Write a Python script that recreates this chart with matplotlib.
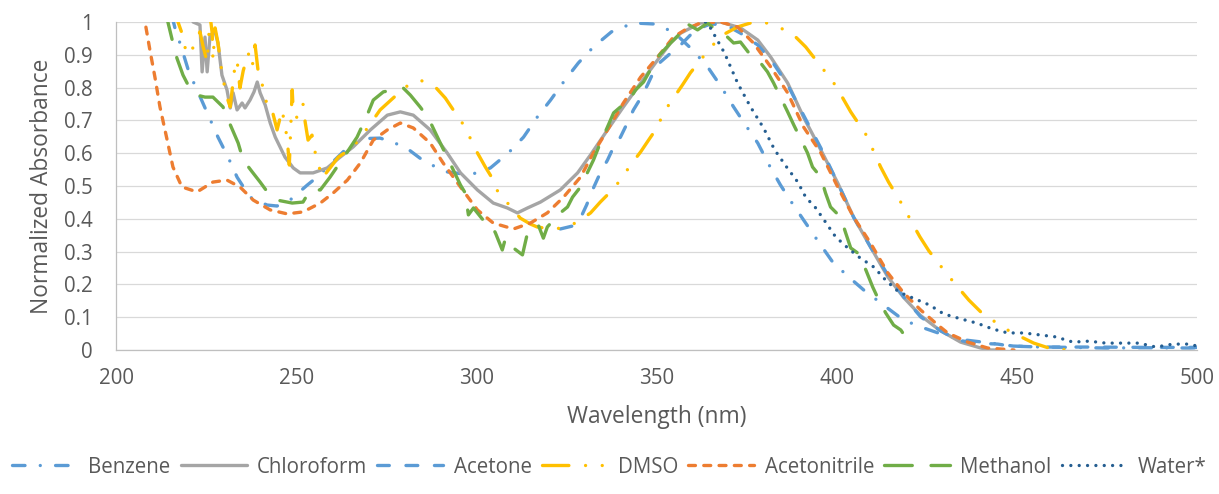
# UV-Vis absorbance spectra in different solvents, normalised
import matplotlib
matplotlib.use("Agg")
import matplotlib.pyplot as plt
from matplotlib.ticker import MultipleLocator, FuncFormatter

# ---- data ----
benzene_wl = [215.5, 216.4, 218.1, 220.3, 222.5, 225.6, 228.3, 231.1, 233.6, 237.2,
              241.9, 244.7, 248.6, 253.1, 255.8, 262.2, 265.8, 270.0, 273.3, 276.7,
              280.6, 285.8, 291.9, 298.3, 303.9, 308.9, 313.1, 316.9, 320.6, 324.2,
              328.3, 332.5, 337.5, 343.6, 349.2, 354.7, 360.0, 364.2, 367.8, 371.4,
              374.7, 378.1, 381.1, 384.4, 387.8, 391.4, 395.0, 398.9, 403.3, 407.5,
              413.0, 418.6, 424.2, 430.0, 436.0, 442.8, 449.0, 456.7, 465.0, 474.7,
              485.0, 498.0, 500.0]
benzene_abs = [1.02, 0.98, 0.924, 0.845, 0.793, 0.716, 0.649, 0.588, 0.527, 0.466,
               0.442, 0.439, 0.46, 0.503, 0.527, 0.595, 0.634, 0.645, 0.646, 0.634,
               0.616, 0.573, 0.543, 0.534, 0.555, 0.601, 0.649, 0.71, 0.762, 0.817,
               0.875, 0.924, 0.97, 0.997, 0.994, 0.97, 0.915, 0.863, 0.805, 0.741,
               0.686, 0.631, 0.567, 0.503, 0.445, 0.387, 0.329, 0.268, 0.223, 0.183,
               0.137, 0.091, 0.067, 0.045, 0.03, 0.021, 0.012, 0.009, 0.008, 0.006,
               0.007, 0.006, 0.007]

chcl3_wl = [221.0, 221.4, 223.3, 223.9, 224.7, 225.3, 226.1, 227.5, 228.3, 229.4,
            230.8, 231.7, 232.5, 233.6, 235.0, 235.8, 237.2, 238.3, 239.2, 240.0,
            241.4, 242.8, 244.2, 246.9, 249.2, 251.1, 254.7, 258.6, 262.2, 265.8,
            270.6, 275.3, 278.9, 282.5, 287.2, 291.9, 295.6, 300.3, 304.7, 308.6,
            311.4, 314.2, 317.8, 323.3, 328.1, 331.7, 336.4, 340.8, 345.6, 350.3,
            353.9, 356.7, 362.2, 367.8, 373.3, 378.1, 381.7, 386.4, 390.8, 395.6,
            400.3, 404.7, 409.4, 414.2, 418.6, 423.3, 428.5, 434.4, 440.0, 442.8,
            446.0]
chcl3_abs = [1.03, 1.0, 0.991, 0.848, 0.954, 0.848, 0.96, 0.97, 0.936, 0.838,
             0.793, 0.738, 0.784, 0.732, 0.753, 0.738, 0.762, 0.787, 0.817, 0.784,
             0.747, 0.692, 0.649, 0.588, 0.555, 0.54, 0.54, 0.555, 0.588, 0.619,
             0.671, 0.716, 0.726, 0.716, 0.671, 0.601, 0.54, 0.488, 0.448, 0.433,
             0.418, 0.433, 0.451, 0.488, 0.54, 0.595, 0.671, 0.741, 0.814, 0.884,
             0.936, 0.966, 0.997, 1.0, 0.982, 0.945, 0.893, 0.814, 0.71, 0.61,
             0.509, 0.405, 0.314, 0.223, 0.16, 0.105, 0.061, 0.024, 0.006, 0.0,
             0.0]

acetone_wl = [323.3, 326.7, 328.9, 330.6, 332.5, 334.4, 336.4, 338.1, 340.0, 341.9,
              343.6, 345.6, 347.5, 349.2, 351.1, 353.3, 356.7, 360.8, 365.0, 369.2,
              373.3, 378.1, 382.2, 386.4, 390.8, 395.6, 400.3, 404.7, 409.4, 414.2,
              418.6, 423.3, 428.9, 433.6, 438.6, 444.7, 448.3, 456.7, 470.0, 485.0,
              500.0]
acetone_abs = [0.369, 0.378, 0.402, 0.442, 0.494, 0.54, 0.579, 0.619, 0.649, 0.692,
               0.732, 0.768, 0.808, 0.848, 0.878, 0.899, 0.93, 0.976, 0.994, 0.991,
               0.966, 0.93, 0.878, 0.808, 0.716, 0.616, 0.509, 0.405, 0.314, 0.229,
               0.162, 0.101, 0.058, 0.03, 0.021, 0.018, 0.012, 0.009, 0.009, 0.008,
               0.008]

dmso_wl = [216.8, 217.2, 218.3, 219.2, 220.6, 221.9, 223.3, 224.2, 225.3, 226.1,
           226.7, 226.9, 227.5, 228.3, 229.4, 230.6, 231.7, 232.8, 233.6, 234.4,
           235.3, 236.7, 237.8, 238.6, 239.4, 240.6, 241.4, 241.9, 243.3, 244.7,
           246.1, 247.5, 248.1, 248.9, 249.2, 250.3, 251.9, 252.5, 253.3, 254.4,
           255.3, 256.1, 257.2, 259.4, 261.7, 265.8, 269.4, 273.3, 276.9, 280.3,
           284.4, 288.6, 291.4, 293.6, 296.1, 298.3, 300.3, 302.5, 304.4, 306.1,
           309.4, 312.2, 315.0, 316.9, 320.6, 324.2, 328.1, 331.7, 334.4, 337.2,
           340.0, 342.8, 345.6, 347.8, 350.3, 351.9, 354.7, 357.2, 359.4, 362.2,
           365.0, 367.8, 372.5, 376.1, 379.7, 383.9, 388.1, 391.4, 396.4, 399.2,
           401.7, 403.9, 408.6, 410.3, 412.2, 414.4, 418.6, 420.8, 423.1, 425.6,
           430.8, 433.6, 436.7, 440.0, 446.4, 450.6, 454.7, 458.9, 464.2]
dmso_abs = [1.05, 1.0, 0.966, 0.921, 0.899, 0.939, 0.97, 0.924, 0.878, 1.02,
            0.966, 0.884, 0.982, 0.936, 0.845, 0.777, 0.741, 0.848, 0.884, 0.799,
            0.851, 0.905, 0.863, 0.93, 0.854, 0.808, 0.784, 0.738, 0.732, 0.671,
            0.732, 0.646, 0.564, 0.793, 0.726, 0.707, 0.75, 0.695, 0.64, 0.655,
            0.601, 0.57, 0.524, 0.555, 0.588, 0.619, 0.671, 0.732, 0.768, 0.802,
            0.823, 0.802, 0.768, 0.732, 0.692, 0.646, 0.601, 0.558, 0.524, 0.479,
            0.439, 0.402, 0.384, 0.375, 0.369, 0.372, 0.39, 0.418, 0.451, 0.482,
            0.518, 0.564, 0.604, 0.64, 0.68, 0.723, 0.768, 0.808, 0.845, 0.884,
            0.921, 0.957, 0.985, 0.997, 1.0, 0.985, 0.96, 0.924, 0.854, 0.814,
            0.768, 0.726, 0.649, 0.604, 0.558, 0.512, 0.436, 0.39, 0.345, 0.302,
            0.229, 0.192, 0.152, 0.116, 0.067, 0.043, 0.021, 0.006, 0.0]

mecn_wl = [207.5, 208.1, 209.4, 210.8, 212.2, 214.2, 215.8, 218.3, 222.5, 226.9,
           230.8, 234.4, 238.1, 242.8, 247.5, 251.9, 256.7, 260.3, 264.2, 267.8,
           271.4, 275.3, 278.9, 282.5, 287.2, 290.8, 295.6, 300.3, 304.7, 310.3,
           315.0, 319.7, 324.2, 328.9, 332.5, 336.4, 340.8, 345.6, 350.3, 354.7,
           358.5, 362.2, 367.8, 372.5, 376.9, 381.7, 386.4, 390.8, 395.6, 400.3,
           404.7, 409.4, 414.2, 418.6, 423.3, 428.1, 430.8, 436.4, 441.9, 449.2]
mecn_abs = [1.03, 0.997, 0.915, 0.832, 0.741, 0.64, 0.558, 0.497, 0.482, 0.512,
            0.518, 0.497, 0.457, 0.427, 0.415, 0.421, 0.448, 0.479, 0.518, 0.57,
            0.64, 0.671, 0.692, 0.677, 0.631, 0.57, 0.497, 0.427, 0.387, 0.369,
            0.387, 0.418, 0.466, 0.527, 0.601, 0.671, 0.753, 0.832, 0.893, 0.954,
            0.98, 0.997, 1.0, 0.985, 0.936, 0.863, 0.784, 0.68, 0.601, 0.497,
            0.405, 0.326, 0.235, 0.174, 0.122, 0.076, 0.052, 0.024, 0.006, 0.0]

meoh_wl = [214.0, 214.4, 215.8, 216.9, 218.6, 220.0, 222.5, 224.7, 226.9, 229.7,
           230.8, 233.9, 235.3, 237.8, 240.0, 242.2, 244.7, 248.9, 251.9, 253.9,
           256.7, 259.4, 264.2, 266.9, 269.7, 271.4, 274.2, 276.9, 279.7, 281.7,
           284.4, 286.7, 290.0, 293.6, 295.6, 296.9, 297.8, 299.2, 301.9, 303.9,
           305.3, 307.2, 308.1, 310.3, 312.8, 314.2, 315.8, 317.2, 318.6, 319.7,
           321.4, 323.3, 325.3, 326.7, 328.9, 332.5, 334.4, 336.4, 338.1, 340.0,
           341.9, 344.2, 346.4, 350.3, 353.9, 356.7, 358.1, 361.4, 364.2, 365.8,
           369.7, 371.4, 373.3, 376.1, 378.9, 380.8, 382.5, 386.4, 388.1, 391.9,
           393.3, 395.6, 396.9, 398.3, 401.1, 402.5, 403.9, 405.8, 408.1, 410.0,
           411.7, 413.6, 415.8, 417.8, 420.6]
meoh_abs = [1.03, 1.0, 0.936, 0.89, 0.838, 0.808, 0.777, 0.771, 0.771, 0.741,
            0.71, 0.631, 0.579, 0.543, 0.512, 0.479, 0.457, 0.448, 0.451, 0.488,
            0.488, 0.527, 0.604, 0.649, 0.716, 0.762, 0.787, 0.793, 0.799, 0.777,
            0.741, 0.707, 0.631, 0.549, 0.503, 0.479, 0.412, 0.433, 0.396, 0.387,
            0.357, 0.305, 0.341, 0.311, 0.29, 0.357, 0.366, 0.381, 0.341, 0.375,
            0.396, 0.418, 0.436, 0.466, 0.497, 0.579, 0.631, 0.68, 0.723, 0.741,
            0.753, 0.793, 0.817, 0.893, 0.936, 0.966, 0.997, 0.976, 0.997, 0.982,
            0.954, 0.936, 0.939, 0.899, 0.875, 0.848, 0.814, 0.726, 0.686, 0.601,
            0.558, 0.527, 0.479, 0.436, 0.405, 0.357, 0.311, 0.296, 0.244, 0.192,
            0.152, 0.113, 0.076, 0.061, 0.015]

water_wl = [363.6, 364.2, 368.9, 372.5, 376.1, 379.7, 382.8, 386.1, 389.2, 391.4,
            394.2, 396.9, 399.7, 403.1, 406.1, 410.3, 413.6, 417.2, 421.9, 425.8,
            429.7, 434.4, 438.9, 443.3, 447.5, 451.9, 456.4, 460.8, 465.6, 470.0,
            474.7, 479.4, 483.9, 488.6, 493.3, 497.8, 500.0]
water_abs = [1.0, 0.997, 0.905, 0.814, 0.741, 0.677, 0.61, 0.558, 0.512, 0.466,
             0.433, 0.39, 0.345, 0.311, 0.284, 0.253, 0.213, 0.177, 0.155, 0.137,
             0.11, 0.095, 0.082, 0.064, 0.052, 0.052, 0.046, 0.04, 0.024, 0.027,
             0.021, 0.021, 0.021, 0.009, 0.018, 0.018, 0.012]

# Excel-like fonts and dash patterns (dashes given in points)
plt.rcParams['font.family'] = ['Open Sans', 'DejaVu Sans']
plt.rcParams['lines.scale_dashes'] = False

text_grey = '#595959'
lw = 2.4

fig = plt.figure(figsize=(12.19, 4.94), dpi=100)
ax = fig.add_axes([116 / 1219, 1 - 350 / 494, 1081 / 1219, 328 / 494])

series = [
    ('Benzene', benzene_wl, benzene_abs, '#5B9BD5', (0, (9, 11, 0.01, 11))),
    ('Chloroform', chcl3_wl, chcl3_abs, '#A5A5A5', '-'),
    ('Acetone', acetone_wl, acetone_abs, '#5B9BD5', (0, (8.5, 12))),
    ('DMSO', dmso_wl, dmso_abs, '#FFC000', (0, (19, 12, 0.01, 12, 0.01, 12))),
    ('Acetonitrile', mecn_wl, mecn_abs, '#ED7D31', (0, (5, 6))),
    ('Methanol', meoh_wl, meoh_abs, '#70AD47', (0, (20, 13.5))),
    ('Water*', water_wl, water_abs, '#255E91', (0, (0.01, 6))),
]

for name, wl, ab, col, ls in series:
    ax.plot(wl, ab, color=col, lw=lw, linestyle=ls, label=name,
            dash_capstyle='round', solid_capstyle='round',
            solid_joinstyle='round', dash_joinstyle='round')

# axes range and ticks
ax.set_xlim(200, 500)
ax.set_ylim(0, 1)
ax.xaxis.set_major_locator(MultipleLocator(50))
ax.yaxis.set_major_locator(MultipleLocator(0.1))
ax.yaxis.set_major_formatter(FuncFormatter(lambda v, p: '%g' % round(v, 1)))
ax.tick_params(length=0, labelsize=14.8, labelcolor=text_grey)
ax.tick_params(axis='y', pad=17)
ax.tick_params(axis='x', pad=13)

# horizontal gridlines only
ax.grid(axis='y', color='#D9D9D9', lw=0.9)
ax.set_axisbelow(True)
for s in ['top', 'right']:
    ax.spines[s].set_visible(False)
for s in ['left', 'bottom']:
    ax.spines[s].set_color('#BFBFBF')
    ax.spines[s].set_linewidth(0.9)

ax.set_xlabel('Wavelength (nm)', fontsize=16.4, color=text_grey)
ax.set_ylabel('Normalized Absorbance', fontsize=16.4, color=text_grey)
ax.xaxis.set_label_coords(0.5, -0.168)
ax.yaxis.set_label_coords(-0.057, 0.5)

fig.legend(loc='center', bbox_to_anchor=(0.5, 1 - 467 / 494), ncol=7,
           frameon=False, fontsize=14.8, labelcolor=text_grey,
           handlelength=3.2, handletextpad=0.5, columnspacing=0.5)

fig.savefig('out.png', dpi=100)
